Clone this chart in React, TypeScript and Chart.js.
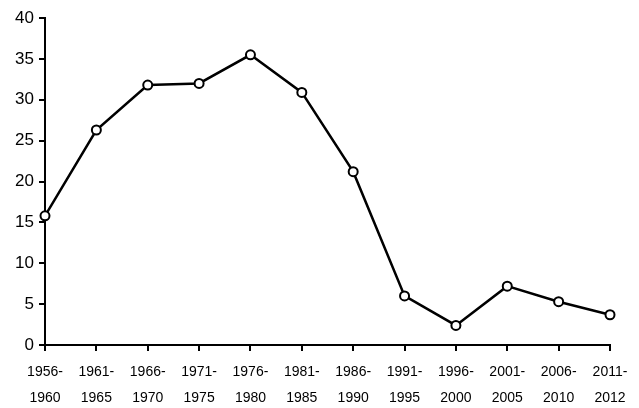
import React, { useEffect, useRef } from "react";
import { Chart, registerables } from "chart.js";

Chart.register(...registerables);

const periodStarts = ["1956-", "1961-", "1966-", "1971-", "1976-", "1981-", "1986-", "1991-", "1996-", "2001-", "2006-", "2011-"];
const periodEnds = ["1960", "1965", "1970", "1975", "1980", "1985", "1990", "1995", "2000", "2005", "2010", "2012"];
const values = [15.8, 26.3, 31.8, 32.0, 35.5, 30.9, 21.2, 6.0, 2.4, 7.2, 5.3, 3.7];
const yTicks = [0, 5, 10, 15, 20, 25, 30, 35, 40];

export default function App() {
  const ref = useRef<HTMLCanvasElement | null>(null);
  useEffect(() => {
    if (!ref.current) return;
    const labels = periodStarts.map((s, i) => [s, periodEnds[i]]);
    const chart = new Chart(ref.current, {
      type: "line",
      data: {
        labels,
        datasets: [
          {
            data: values,
            borderColor: "#000",
            borderWidth: 2.5,
            pointRadius: 4.5,
            pointBorderWidth: 2,
            pointBackgroundColor: "#fff",
            pointBorderColor: "#000",
            tension: 0,
          },
        ],
      },
      options: {
        animation: false,
        responsive: false,
        events: [],
        layout: { padding: { left: 0, top: 18, right: 29, bottom: 0 } },
        plugins: { legend: { display: false }, tooltip: { enabled: false } },
        scales: {
          x: {
            offset: false,
            grid: { display: true, drawOnChartArea: false, drawTicks: true, tickLength: 6, color: "#000", lineWidth: 2, offset: false },
            border: { display: true, color: "#000", width: 2 },
            ticks: { color: "#000", font: { family: "Liberation Sans", size: 14, lineHeight: 1.8 }, padding: 9, maxRotation: 0, autoSkip: false },
            afterFit: (s: any) => { s.height = 63; },
          },
          y: {
            min: 0,
            max: 40,
            afterBuildTicks: (s: any) => { s.ticks = yTicks.map((v) => ({ value: v })); },
            grid: { display: true, drawOnChartArea: false, drawTicks: true, tickLength: 6, color: "#000", lineWidth: 2 },
            border: { display: true, color: "#000", width: 2 },
            ticks: { color: "#000", font: { family: "Liberation Sans", size: 17 }, padding: 5 },
            afterFit: (s: any) => { s.width = 45; },
          },
        },
      },
    });
    return () => chart.destroy();
  }, []);
  return (
    <div style={{ position: "fixed", left: 0, top: 0, width: 639, height: 408, background: "#fff" }}>
      <canvas ref={ref} width={639} height={408} style={{ width: 639, height: 408, display: "block" }} />
    </div>
  );
}
